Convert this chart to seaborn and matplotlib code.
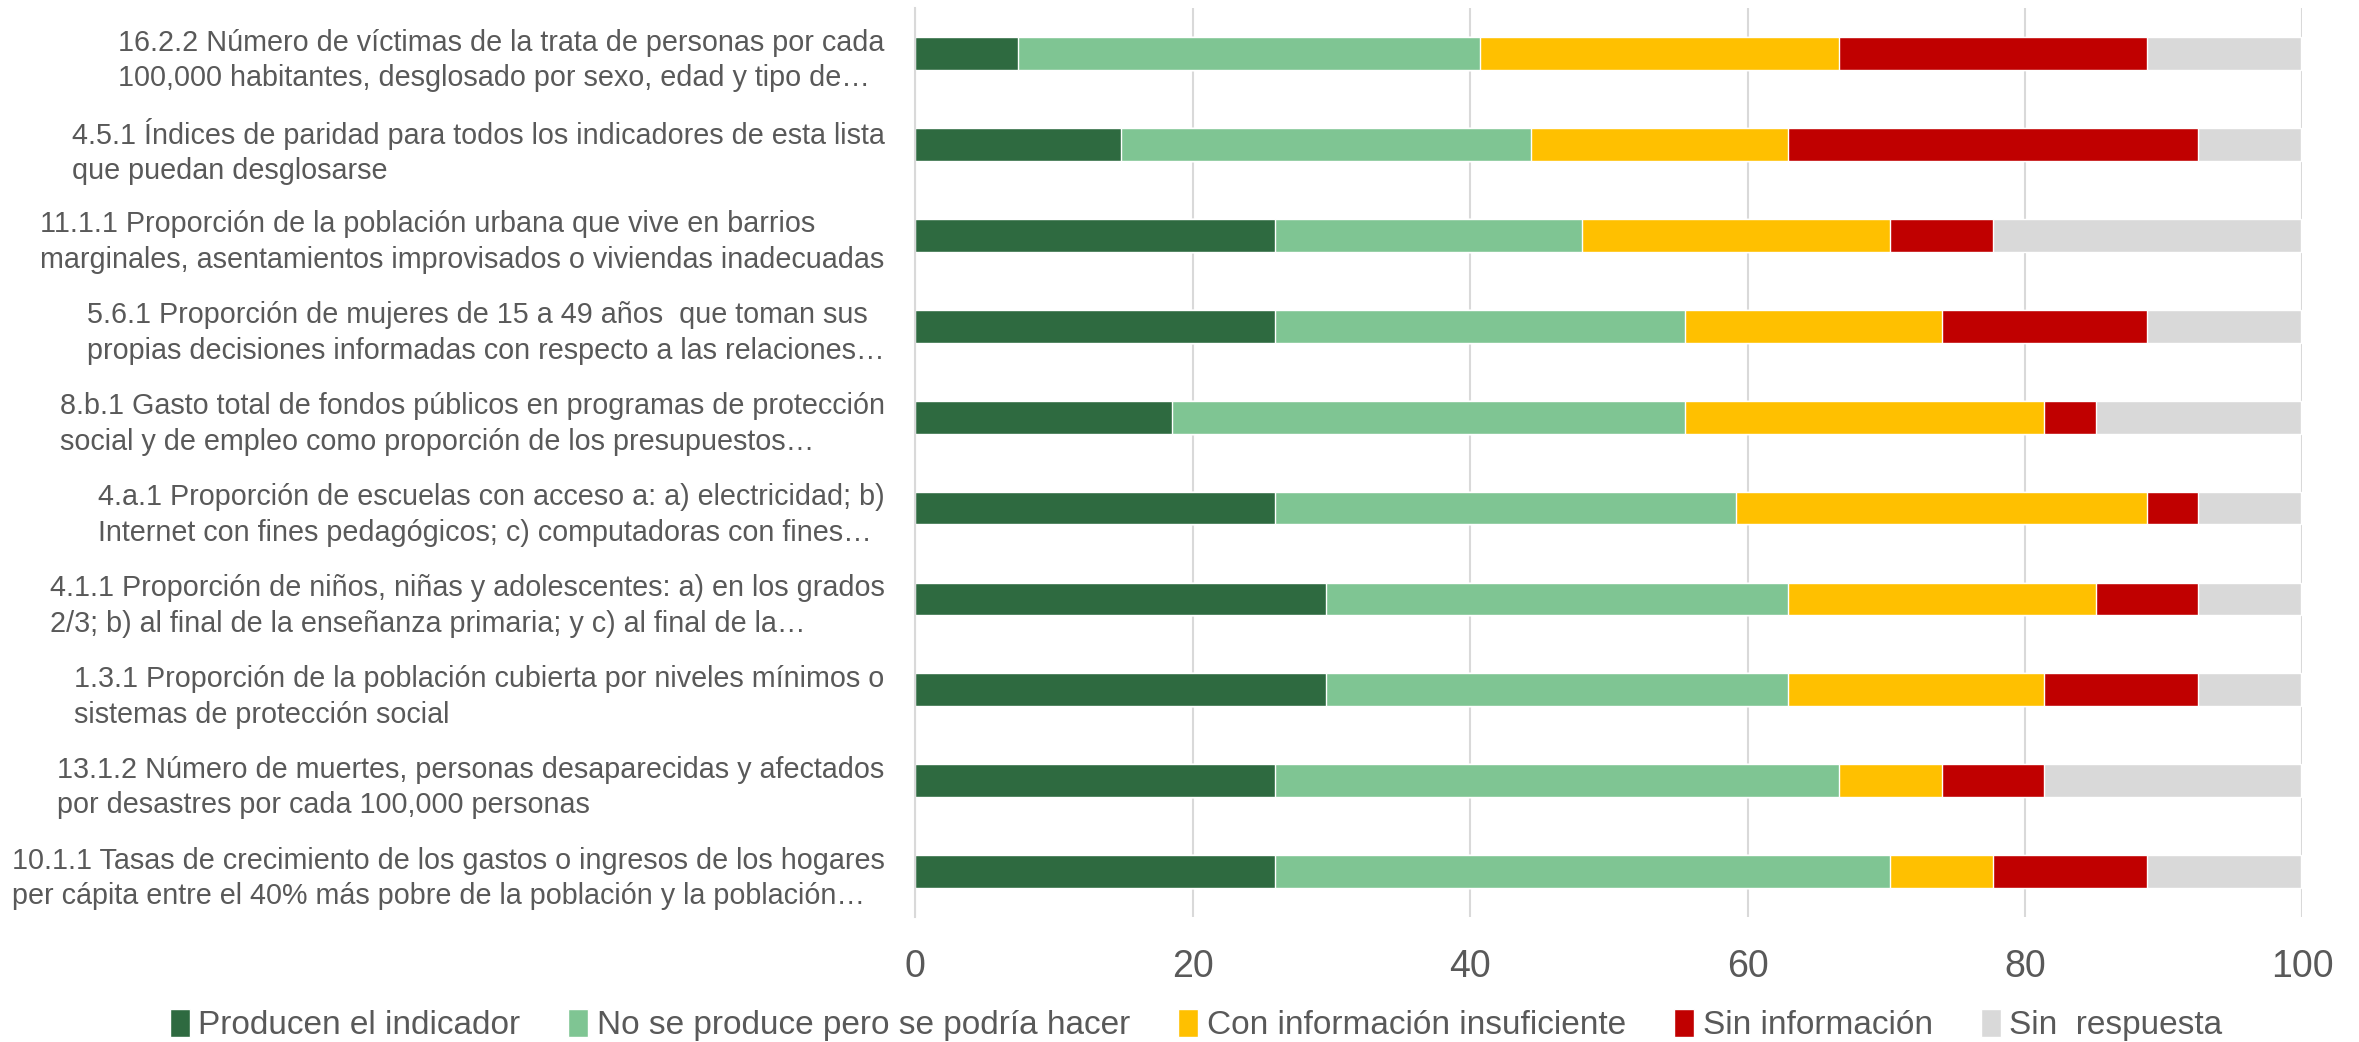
import pandas as pd
import matplotlib.pyplot as plt
import seaborn as sns
from matplotlib.patches import Patch

# datos (porcentaje de respuestas por indicador)
indicadores = [
    '16.2.2 Número de víctimas de la trata de personas por cada\n100,000 habitantes, desglosado por sexo, edad y tipo de…',
    '4.5.1 Índices de paridad para todos los indicadores de esta lista\nque puedan desglosarse',
    '11.1.1 Proporción de la población urbana que vive en barrios\nmarginales, asentamientos improvisados o viviendas inadecuadas',
    '5.6.1 Proporción de mujeres de 15 a 49 años  que toman sus\npropias decisiones informadas con respecto a las relaciones…',
    '8.b.1 Gasto total de fondos públicos en programas de protección\nsocial y de empleo como proporción de los presupuestos…',
    '4.a.1 Proporción de escuelas con acceso a: a) electricidad; b)\nInternet con fines pedagógicos; c) computadoras con fines…',
    '4.1.1 Proporción de niños, niñas y adolescentes: a) en los grados\n2/3; b) al final de la enseñanza primaria; y c) al final de la…',
    '1.3.1 Proporción de la población cubierta por niveles mínimos o\nsistemas de protección social',
    '13.1.2 Número de muertes, personas desaparecidas y afectados\npor desastres por cada 100,000 personas',
    '10.1.1 Tasas de crecimiento de los gastos o ingresos de los hogares\nper cápita entre el 40% más pobre de la población y la población…',
]
producen = [7.4, 14.8, 25.9, 25.9, 18.5, 25.9, 29.6, 29.6, 25.9, 25.9]
podria_hacer = [33.3, 29.6, 22.2, 29.6, 37.0, 33.3, 33.3, 33.3, 40.7, 44.4]
insuficiente = [25.9, 18.5, 22.2, 18.5, 25.9, 29.6, 22.2, 18.5, 7.4, 7.4]
sin_info = [22.2, 29.6, 7.4, 14.8, 3.7, 3.7, 7.4, 11.1, 7.4, 11.1]
sin_respuesta = [11.1, 7.4, 22.2, 11.1, 14.8, 7.4, 7.4, 7.4, 18.5, 11.1]

series = ['Producen el indicador', 'No se produce pero se podría hacer',
          'Con información insuficiente', 'Sin información', 'Sin  respuesta']
colores = ['#2E6A40', '#7FC593', '#FFC000', '#C00000', '#D9D9D9']

df = pd.DataFrame({
    'indicador': indicadores,
    series[0]: producen,
    series[1]: podria_hacer,
    series[2]: insuficiente,
    series[3]: sin_info,
    series[4]: sin_respuesta,
})

# acumulado para apilar
acum = df[series].cumsum(axis=1)
acum['indicador'] = df['indicador']

sns.set_style('white')
plt.rcParams['font.family'] = ['Liberation Sans', 'DejaVu Sans']
gris = '#595959'

fig = plt.figure(figsize=(23.59, 10.42), dpi=100)
ax = fig.add_axes([0.388, 0.12, 0.588, 0.872])

# se dibujan de la suma mayor a la menor para que se vean apiladas
for serie, color in reversed(list(zip(series, colores))):
    sns.barplot(data=acum, y='indicador', x=serie, color=color, orient='h',
                width=0.36, edgecolor='white', linewidth=1, saturation=1,
                ax=ax, order=indicadores)

ax.set_xlim(0, 100)
ax.set_ylim(9.5, -0.5)
ax.set_xticks([0, 20, 40, 60, 80, 100])
ax.xaxis.grid(True, color='#D9D9D9', linewidth=1.5)
ax.set_axisbelow(True)
ax.set_xlabel('')
ax.set_ylabel('')
for lado in ['top', 'right', 'bottom']:
    ax.spines[lado].set_visible(False)
ax.spines['left'].set_color('#D9D9D9')
ax.spines['left'].set_linewidth(1.5)

ax.tick_params(axis='x', length=0, pad=23, labelsize=27, labelcolor=gris)
ax.set_yticks(range(len(indicadores)))
ax.set_yticklabels(indicadores, fontsize=20.7, color=gris,
                   ha='right', multialignment='left', linespacing=1.35)
ax.tick_params(axis='y', length=0, pad=22)
# marcas entre categorías
ax.set_yticks([i - 0.5 for i in range(len(indicadores) + 1)], minor=True)
ax.tick_params(axis='y', which='minor', length=7, width=1.5, color='#D9D9D9')

handles = [Patch(facecolor=c, label=s) for s, c in zip(series, colores)]
fig.legend(handles=handles, loc='center', bbox_to_anchor=(0.507, 0.016),
           ncol=5, frameon=False, fontsize=24, labelcolor=gris,
           handlelength=0.6, handleheight=0.9, handletextpad=0.25,
           columnspacing=1.45, borderpad=0)

fig.savefig('out.png', dpi=100)
